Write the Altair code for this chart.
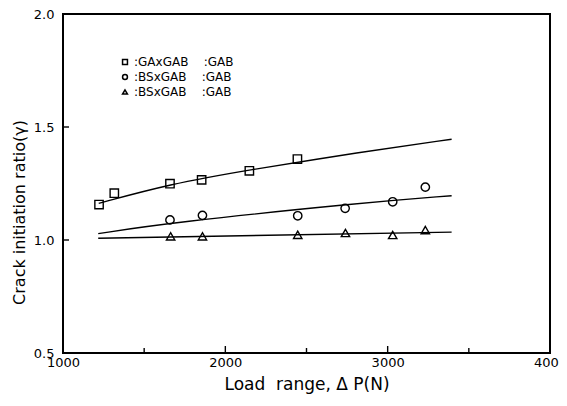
import altair as alt
import pandas as pd

# ---- data ----
sq_x = [1222, 1316, 1659, 1854, 2148, 2444]
sq_y = [1.157, 1.207, 1.249, 1.266, 1.306, 1.358]
ci_x = [1659, 1859, 2446, 2738, 3031, 3232]
ci_y = [1.089, 1.109, 1.107, 1.140, 1.169, 1.234]
tr_x = [1663, 1859, 2446, 2740, 3031, 3232]
tr_y = [1.016, 1.016, 1.023, 1.031, 1.022, 1.044]

# fitted curves
sq_fit_x = [1220, 1655, 2142, 2829, 3394]
sq_fit_y = [1.162, 1.247, 1.310, 1.388, 1.446]
ci_fit_x = [1217, 1655, 2829, 3394]
ci_fit_y = [1.028, 1.076, 1.164, 1.196]
tr_fit_x = [1217, 3394]
tr_fit_y = [1.008, 1.035]

series_keys = ["sq", "ci", "tr"]
series_shapes = ["square", "circle", "triangle-up"]
NB = "\u00a0"
series_labels = [":GAxGAB" + NB * 4 + ":GAB", ":BSxGAB" + NB * 4 + ":GAB", ":BSxGAB" + NB * 4 + ":GAB"]

x_labels = [1000, 2000, 3000, 4000]
y_labels = [0.5, 1.0, 1.5, 2.0]
x_major_ticks = [2000, 3000]
x_minor_ticks = [1500, 2500, 3500]
y_ticks = [1.0, 1.5]

W, H = 487, 339
FONT = "DejaVu Sans"

pts = pd.concat([
    pd.DataFrame({"x": sq_x, "y": sq_y, "s": "sq"}),
    pd.DataFrame({"x": ci_x, "y": ci_y, "s": "ci"}),
    pd.DataFrame({"x": tr_x, "y": tr_y, "s": "tr"}),
])
fits = pd.concat([
    pd.DataFrame({"x": sq_fit_x, "y": sq_fit_y, "s": "sq"}),
    pd.DataFrame({"x": ci_fit_x, "y": ci_fit_y, "s": "ci"}),
    pd.DataFrame({"x": tr_fit_x, "y": tr_fit_y, "s": "tr"}),
])

xscale = alt.Scale(domain=[1000, 4000], nice=False, zero=False)
yscale = alt.Scale(domain=[0.5, 2.0], nice=False, zero=False)

label_expr = "{'sq': '%s', 'ci': '%s', 'tr': '%s'}[datum.value]" % tuple(series_labels)

xaxis = alt.Axis(values=x_labels, format="d", ticks=False, domain=False, grid=False,
                 labelFlush=False, labelOverlap=False,
                 labelFont=FONT, labelFontSize=13, labelPadding=3, labelColor="black",
                 title="Load" + NB * 2 + "range," + NB + "Δ" + NB + "P(N)",
                 titleFont=FONT, titleFontSize=17,
                 titleFontWeight="normal", titlePadding=7, titleColor="black")
yaxis = alt.Axis(values=y_labels, format=".1f", ticks=False, domain=False, grid=False,
                 labelFlush=False, labelOverlap=False,
                 labelFont=FONT, labelFontSize=13, labelPadding=9, labelColor="black",
                 title="Crack" + NB + "initiation" + NB + "ratio(γ)", titleFont=FONT, titleFontSize=16,
                 titleFontWeight="normal", titleColor="black",
                 titleX=-44, titleY=198, titleBaseline="middle")

points = alt.Chart(pts).mark_point(filled=False, color="black", strokeWidth=1.4, size=70, opacity=1).encode(
    x=alt.X("x:Q", scale=xscale, axis=xaxis),
    y=alt.Y("y:Q", scale=yscale, axis=yaxis),
    shape=alt.Shape("s:N", scale=alt.Scale(domain=series_keys, range=series_shapes),
                    legend=alt.Legend(orient="none", legendX=56, legendY=42, title=None,
                                      labelExpr=label_expr, labelFont=FONT, labelFontSize=12,
                                      labelColor="black", symbolSize=24, symbolStrokeWidth=1.5,
                                      symbolStrokeColor="black", symbolFillColor="white",
                                      labelOffset=3, rowPadding=3, padding=0)),
)

lines = alt.Chart(fits).mark_line(color="black", strokeWidth=1.4, interpolate="basis").encode(
    x=alt.X("x:Q", scale=xscale),
    y=alt.Y("y:Q", scale=yscale),
    detail="s:N",
)

xmaj = alt.Chart(pd.DataFrame({"v": x_major_ticks})).mark_rule(color="black", strokeWidth=1.4).encode(
    x=alt.X("v:Q", scale=xscale), y=alt.value(H), y2=alt.value(H - 7))
xmin = alt.Chart(pd.DataFrame({"v": x_minor_ticks})).mark_rule(color="black", strokeWidth=1.4).encode(
    x=alt.X("v:Q", scale=xscale), y=alt.value(H), y2=alt.value(H - 5))
yt = alt.Chart(pd.DataFrame({"v": y_ticks})).mark_rule(color="black", strokeWidth=1.4).encode(
    y=alt.Y("v:Q", scale=yscale), x=alt.value(0), x2=alt.value(6))

chart = alt.layer(lines, points, xmaj, xmin, yt).properties(
    width=W, height=H,
    autosize=alt.AutoSizeParams(type="none"),
    padding={"left": 55, "top": 6, "right": 9, "bottom": 41},
    background="white",
).configure_view(stroke="black", strokeWidth=2)

chart.save("out.html", embed_options={"renderer": "svg", "actions": False})
